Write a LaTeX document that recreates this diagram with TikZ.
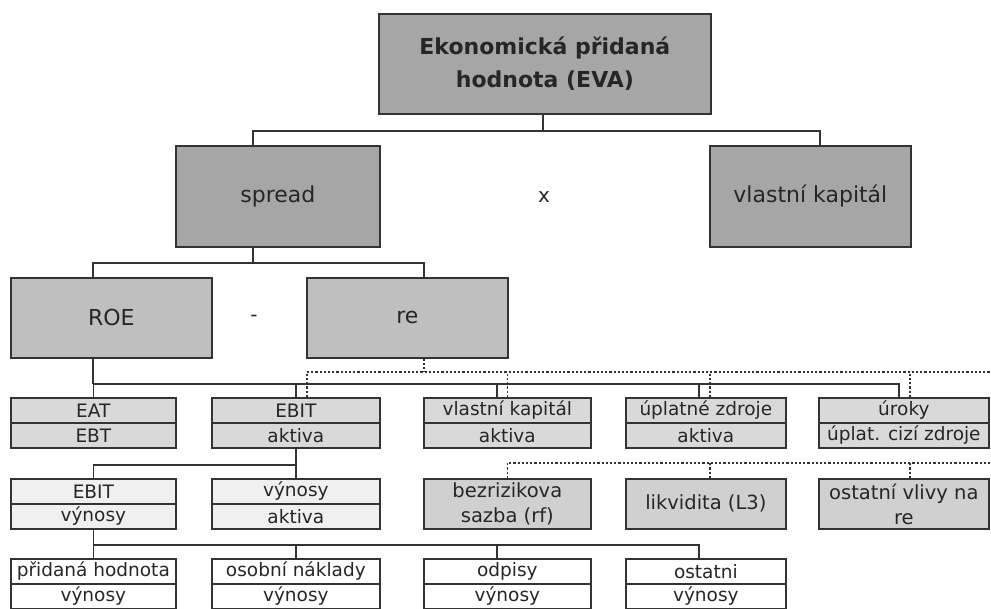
\documentclass[tikz,border=0pt]{standalone}
\usepackage{fontspec}
\setmainfont{DejaVu Sans}
\definecolor{g1}{HTML}{A6A6A6}
\definecolor{g2}{HTML}{BFBFBF}
\definecolor{g3}{HTML}{D9D9D9}
\definecolor{g4}{HTML}{F0F0F0}
\definecolor{g5}{HTML}{D0D0D0}
\definecolor{lc}{HTML}{333333}
\definecolor{tc}{HTML}{262626}
\begin{document}
\begin{tikzpicture}[x=1pt,y=-1pt,
  conn/.style={draw=lc, line width=1.7pt},
  dconn/.style={draw=lc, line width=1.6pt, dash pattern=on 2.2pt off 2pt},
  bx/.style={draw=lc, line width=1.7pt, anchor=north west, inner sep=0pt, align=center, text=tc},
  big/.style={bx, fill=g1, font=\fontsize{22}{32}\selectfont},
  mid/.style={bx, fill=g2, font=\fontsize{22}{32}\selectfont},
  cell/.style={bx, minimum height=25pt, font=\fontsize{18.5}{22}\selectfont},
  tall/.style={bx, fill=g5, minimum height=50pt, font=\fontsize{19.5}{25}\selectfont},
  lbl/.style={text=tc, inner sep=0pt, font=\fontsize{20}{24}\selectfont}
]
\useasboundingbox (0,0) rectangle (991,608);

% level 0-1
\node[big, minimum width=332pt, minimum height=100pt, font=\fontsize{22}{33}\selectfont\bfseries] (eva) at (378,13) {Ekonomická přidaná\\hodnota (EVA)};
\node[big, minimum width=204pt, minimum height=101pt] (spread) at (175,145) {spread};
\node[big, minimum width=201pt, minimum height=101pt] (vk) at (709,145) {vlastní kapitál};
\node[lbl] (times) at (544,197) {x};

% level 2
\node[mid, minimum width=201pt, minimum height=80pt] (roe) at (10,277) {ROE};
\node[mid, minimum width=201pt, minimum height=80pt] (re) at (306,277) {re};
\node[lbl] (minus) at (254,318) {-};

% level 3
\node[cell, fill=g3, minimum width=165pt] (eat) at (10,397) {EAT};
\node[cell, fill=g3, minimum width=165pt] (eatb) at (10,422) {EBT};
\node[cell, fill=g3, minimum width=168pt] (ebit) at (211,397) {EBIT};
\node[cell, fill=g3, minimum width=168pt] (ebitb) at (211,422) {aktiva};
\node[cell, fill=g3, minimum width=167pt] (vkr) at (423,397) {vlastní kapitál};
\node[cell, fill=g3, minimum width=167pt] (vkrb) at (423,422) {aktiva};
\node[cell, fill=g3, minimum width=160pt] (upl) at (625,397) {úplatné zdroje};
\node[cell, fill=g3, minimum width=160pt] (uplb) at (625,422) {aktiva};
\node[cell, fill=g3, minimum width=170pt] (uro) at (818,397) {úroky};
\node[cell, fill=g3, minimum width=170pt] (urob) at (818,422) {úplat. cizí zdroje};

% level 4
\node[cell, fill=g4, minimum width=165pt] (ebv) at (10,478) {EBIT};
\node[cell, fill=g4, minimum width=165pt] (ebvb) at (10,503) {výnosy};
\node[cell, fill=g4, minimum width=168pt] (vyn) at (211,478) {výnosy};
\node[cell, fill=g4, minimum width=168pt] (vynb) at (211,503) {aktiva};
\node[tall, minimum width=167pt] (bez) at (423,478) {bezrizikova\\sazba (rf)};
\node[tall, minimum width=160pt] (lik) at (625,478) {likvidita (L3)};
\node[tall, minimum width=170pt] (ost) at (818,478) {ostatní vlivy na\\re};

% level 5
\node[cell, fill=white, minimum width=165pt] (pri) at (10,558) {přidaná hodnota};
\node[cell, fill=white, minimum width=165pt] (prib) at (10,583) {výnosy};
\node[cell, fill=white, minimum width=168pt] (oso) at (211,558) {osobní náklady};
\node[cell, fill=white, minimum width=168pt] (osob) at (211,583) {výnosy};
\node[cell, fill=white, minimum width=167pt] (odp) at (423,558) {odpisy};
\node[cell, fill=white, minimum width=167pt] (odpb) at (423,583) {výnosy};
\node[cell, fill=white, minimum width=160pt] (ostn) at (625,558) {ostatni};
\node[cell, fill=white, minimum width=160pt] (ostnb) at (625,583) {výnosy};

% solid connectors
\draw[conn] ([xshift=-2pt]eva.south) -- ++(0,16) -| ([xshift=-25pt]spread.north);
\draw[conn] ([xshift=-2pt]eva.south) -- ++(0,16) -| ([xshift=9.5pt]vk.north);
\draw[conn] ([xshift=-25pt]spread.south) -- ++(0,15) -| ([xshift=-18.5pt]roe.north);
\draw[conn] ([xshift=-25pt]spread.south) -- ++(0,15) -| ([xshift=16.5pt]re.north);
\draw[conn] ([xshift=-18.5pt]roe.south) -- ++(0,25) coordinate (r1);
\draw[conn] (r1) -| (eat.north);
\draw[conn] (r1) -| (ebit.north);
\draw[conn] (r1) -| ([xshift=-10.5pt]vkr.north);
\draw[conn] (r1) -| ([xshift=-7pt]upl.north);
\draw[conn] (r1) -| ([xshift=-5pt]uro.north);
\draw[conn] (ebitb.south) -- ++(0,16) coordinate (r2);
\draw[conn] (r2) -| (ebv.north);
\draw[conn] (r2) -| (vyn.north);
\draw[conn] (ebvb.south) -- ++(0,15) coordinate (r3);
\draw[conn] (r3) -| (pri.north);
\draw[conn] (r3) -| (oso.north);
\draw[conn] (r3) -| ([xshift=-10.5pt]odp.north);
\draw[conn] (r3) -| ([xshift=-7pt]ostn.north);

% dotted connectors
\coordinate (dr1) at (991,372);
\coordinate (dr2) at (991,463);
\draw[dconn] ([xshift=16.5pt]re.south) -- ([xshift=16.5pt]re.south |- dr1);
\draw[dconn] ([xshift=11pt]ebit.north) |- (dr1);
\draw[dconn] (vkr.north) -- (vkr.north |- dr1);
\draw[dconn] ([xshift=4pt]upl.north) -- ([xshift=4pt]upl.north |- dr1);
\draw[dconn] ([xshift=6pt]uro.north) -- ([xshift=6pt]uro.north |- dr1);
\draw[dconn] (bez.north) |- (dr2);
\draw[dconn] ([xshift=4pt]lik.north) -- ([xshift=4pt]lik.north |- dr2);
\draw[dconn] ([xshift=6pt]ost.north) -- ([xshift=6pt]ost.north |- dr2);
\end{tikzpicture}
\end{document}
